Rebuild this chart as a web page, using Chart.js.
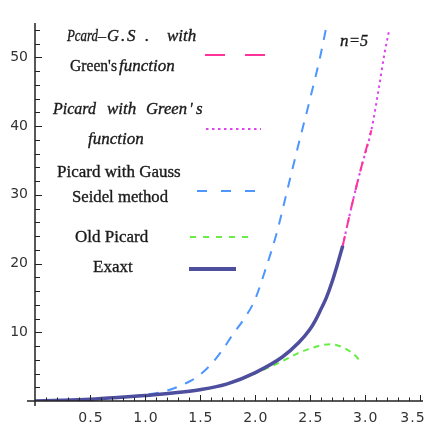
<!DOCTYPE html>
<html>
<head>
<meta charset="utf-8">
<script src="https://cdn.jsdelivr.net/npm/chart.js@4"></script>
<style>
  html, body { margin: 0; padding: 0; background: #fff; }
  #wrap { width: 427px; height: 429px; }
</style>
</head>
<body>
<div id="wrap"><canvas id="plot" width="427" height="429"></canvas></div>
<script>
// values
var exactX = [0, 0.25, 0.5, 0.75, 1.0, 1.25, 1.5, 1.75, 2.0, 2.25, 2.4, 2.5, 2.55, 2.6, 2.65, 2.7, 2.75, 2.8];
var exactY = [0, 0.1, 0.25, 0.5, 0.8, 1.15, 1.65, 2.5, 4.1, 6.4, 8.5, 10.4, 11.7, 13.3, 15.0, 17.2, 19.8, 22.6];

var gaussX = [0, 0.5, 1.0, 1.2, 1.4, 1.5, 1.6, 1.7, 1.8, 1.9, 2.0, 2.1, 2.2, 2.3, 2.4, 2.5, 2.6, 2.67];
var gaussY = [0, 0.25, 0.9, 1.5, 2.8, 3.8, 5.3, 7.3, 9.7, 11.9, 14.7, 19.3, 24.5, 31.0, 37.5, 43.8, 50.5, 56];

var oldX = [1.8, 1.9, 2.0, 2.1, 2.2, 2.3, 2.4, 2.5, 2.6, 2.7, 2.8, 2.9, 2.97];
var oldY = [2.7, 3.3, 4.0, 4.7, 5.4, 6.2, 7.0, 7.6, 8.1, 8.25, 7.8, 6.8, 5.6];

var greenX = [2.8, 2.88, 2.97, 3.06, 3.13, 3.18, 3.22];
var greenY = [22.6, 28.3, 34.1, 39.4, 45.7, 50.6, 53.8];

var gsGreenX = [2.8, 2.88, 2.97, 3.06];
var gsGreenY = [22.6, 28.3, 34.1, 39.4];

var xTicks = [0.5, 1.0, 1.5, 2.0, 2.5, 3.0, 3.5];
var yTicks = [10, 20, 30, 40, 50];

function pts(xs, ys) {
  return xs.map(function (x, i) { return { x: x, y: ys[i] }; });
}

var serif = '"Liberation Serif", "Times New Roman", serif';
var sans = '"DejaVu Sans", Verdana, sans-serif';

// axes through the origin with inward ticks, plus the text legend
var decor = {
  id: 'decor',
  afterDraw: function (chart) {
    var c = chart.ctx, xs = chart.scales.x, ys = chart.scales.y;
    var x0 = Math.round(xs.getPixelForValue(0)), y0 = Math.round(ys.getPixelForValue(0));
    c.save();
    c.strokeStyle = '#222';
    c.lineWidth = 1.5;
    c.beginPath();
    c.moveTo(27, y0); c.lineTo(chart.chartArea.right, y0);
    c.moveTo(x0, chart.chartArea.top); c.lineTo(x0, y0 + 5);
    c.stroke();
    c.lineWidth = 1;
    c.beginPath();
    var v, p;
    for (v = 1; v <= 35; v++) {
      p = Math.round(xs.getPixelForValue(v / 10)) + 0.5;
      var len = (v % 5 === 0) ? 6 : 3.5;
      c.moveTo(p, y0); c.lineTo(p, y0 - len);
    }
    for (v = 2; v <= 54; v += 2) {
      p = Math.round(ys.getPixelForValue(v)) + 0.5;
      var l2 = (v % 10 === 0) ? 7 : 5;
      c.moveTo(x0, p); c.lineTo(x0 + l2, p);
    }
    c.stroke();

    c.fillStyle = '#333';
    c.font = '14px ' + sans;
    c.textAlign = 'center';
    c.textBaseline = 'middle';
    c.letterSpacing = '1px';
    xTicks.forEach(function (t) {
      var px = Math.min(xs.getPixelForValue(t), 412);
      c.fillText(t.toFixed(1), px + 1, y0 + 17);
    });
    c.letterSpacing = '0px';
    c.textAlign = 'right';
    yTicks.forEach(function (t) {
      c.fillText(String(t), x0 - 7, ys.getPixelForValue(t));
    });

    // legend text: [text, left x, italic, width]
    c.fillStyle = '#1a1a1a';
    c.strokeStyle = '#1a1a1a';
    c.lineWidth = 0.35;
    c.textAlign = 'left';
    c.textBaseline = 'middle';
    function txt(parts, y) {
      parts.forEach(function (pt) {
        c.font = (pt[2] ? 'italic ' : '') + '17px ' + serif;
        var w = pt[3] || undefined;
        c.fillText(pt[0], pt[1], y, w);
        c.strokeText(pt[0], pt[1], y, w);
      });
    }
    txt([['Pcard', 67, true, 31], ['\u2013', 98, false, 8], ['G', 107, true, 12], ['.', 121, true], ['S', 127, true, 11], ['.', 145, true], ['with', 167, true, 32]], 37);
    txt([['Green\'s', 70, false, 47], ['function', 119, true, 64]], 67);
    txt([['Picard', 53, true, 43], ['with', 107, true, 31], ['Green', 146, true, 41], ['\'', 189, true], ['s', 196, true]], 110);
    txt([['function', 88, true, 60]], 140);
    txt([['Picard with Gauss', 57, false, 128]], 173);
    txt([['Seidel method', 72, false, 96]], 198);
    txt([['Old Picard', 75, false, 75]], 238);
    txt([['Exaxt', 93, false, 41]], 268);
    txt([['n', 340, true], ['=5', 349, true, 19]], 42);

    function sample(y, x1, x2, color, width, dash) {
      c.beginPath();
      c.setLineDash(dash);
      c.strokeStyle = color;
      c.lineWidth = width;
      c.moveTo(x1, y); c.lineTo(x2, y);
      c.stroke();
    }
    sample(55, 205, 268, '#ff3399', 2, [20, 20]);
    sample(129, 206, 261, '#dd44ee', 2, [2.5, 3.5]);
    sample(191, 197, 258, '#4d96ff', 2, [10, 14]);
    sample(237, 190, 249, '#66ee44', 2, [6, 7]);
    sample(269, 189, 236, '#4e4e9e', 4, []);
    c.restore();
  }
};

new Chart(document.getElementById('plot').getContext('2d'), {
  type: 'scatter',
  data: {
    datasets: [
      { label: 'Exaxt', data: pts(exactX, exactY), borderColor: '#4e4e9e', borderWidth: 3.5, order: 1 },
      { label: 'Pcard-G.S. with Green\'s function', data: pts(gsGreenX, gsGreenY), borderColor: '#ff3399', borderWidth: 2, borderDash: [10, 9], order: 2 },
      { label: 'Picard with Green\'s function', data: pts(greenX, greenY), borderColor: '#dd44ee', borderWidth: 2, borderDash: [2.5, 3.5], order: 3 },
      { label: 'Picard with Gauss Seidel method', data: pts(gaussX, gaussY), borderColor: '#4d96ff', borderWidth: 2, borderDash: [10, 9], order: 4 },
      { label: 'Old Picard', data: pts(oldX, oldY), borderColor: '#66ee44', borderWidth: 2, borderDash: [6, 5], order: 5 }
    ].map(function (d) {
      d.showLine = true; d.pointRadius = 0; d.fill = false; d.cubicInterpolationMode = 'monotone';
      return d;
    })
  },
  options: {
    responsive: false,
    animation: false,
    layout: { padding: { left: 35, right: 4, top: 23, bottom: 28 } },
    plugins: { legend: { display: false }, tooltip: { enabled: false } },
    scales: {
      x: { type: 'linear', min: 0, max: 3.53, display: false },
      y: { type: 'linear', min: 0, max: 55, display: false }
    }
  },
  plugins: [decor]
});
</script>
</body>
</html>
